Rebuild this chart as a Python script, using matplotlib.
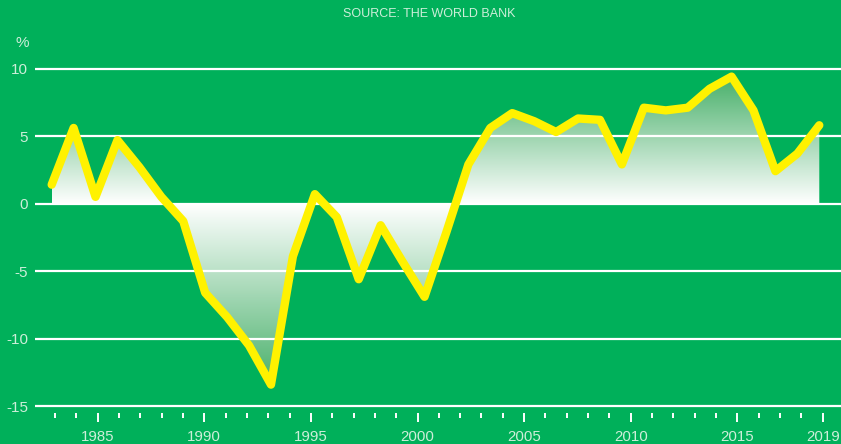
import numpy as np
import matplotlib.pyplot as plt

# GDP growth, annual %
years = list(range(1983, 2019))
growth = [1.4, 5.6, 0.5, 4.7, 2.7, 0.5, -1.3, -6.6, -8.4, -10.5,
          -13.4, -3.9, 0.7, -1.0, -5.6, -1.6, -4.3, -6.9, -2.1, 2.9,
          5.6, 6.7, 6.1, 5.3, 6.3, 6.2, 2.9, 7.1, 6.9, 7.1,
          8.5, 9.4, 6.9, 2.4, 3.7, 5.8]
y_ticks = [-15, -10, -5, 0, 5, 10]
x_major = [1985, 1990, 1995, 2000, 2005, 2010, 2015, 2019]
x_minor = list(range(1983, 2020))

bg = '#00b05a'
txt = '#cdeed9'
yellow = '#fff200'

plt.rcParams['font.family'] = ['Liberation Sans', 'DejaVu Sans']

fig = plt.figure(figsize=(8.41, 4.44), dpi=100, facecolor=bg)
ax = fig.add_axes([35 / 841, 31 / 444, 806 / 841, 358 / 444])
ax.set_facecolor(bg)

idx = np.arange(len(growth))
vals = np.array(growth)

# gradient fill, white at zero, deeper green toward the extremes
poly = ax.fill_between(idx, vals, 0, facecolor='none', edgecolor='none')
ys = np.linspace(-15.5, 11, 600)
t = np.where(ys > 0, ys / vals.max(), ys / vals.min())
t = np.clip(t, 0, 1)
c0 = np.array([1.0, 1.0, 1.0])
c1 = np.array([72, 176, 106]) / 255
cols = c0[None, :] * (1 - t[:, None]) + c1[None, :] * t[:, None]
img = np.repeat(cols[:, None, :], 2, axis=1)
im = ax.imshow(img, extent=[idx[0], idx[-1], -15.5, 11], origin='lower',
               aspect='auto', zorder=1, interpolation='bilinear')
im.set_clip_path(poly.get_paths()[0], transform=ax.transData)

ax.plot(idx, vals, color=yellow, lw=6, solid_joinstyle='round',
        solid_capstyle='round', zorder=3)

ax.set_xlim(-0.76, 35.99)
ax.set_ylim(-15.5, 11)
ax.set_yticks(y_ticks)
ax.set_yticklabels([str(v) for v in y_ticks])
ax.yaxis.grid(True, color='white', lw=1.6, zorder=2)
ax.set_axisbelow(False)
ax.tick_params(axis='y', length=0, pad=5, labelsize=11, labelcolor=txt)
ax.set_xticks([])
for s in ax.spines.values():
    s.set_visible(False)

# year axis drawn separately
ax2 = ax.twiny()
ax2.set_xlim(1982.06, 2019.86)
ax2.xaxis.set_ticks_position('bottom')
ax2.set_xticks(x_major)
ax2.set_xticklabels([str(v) for v in x_major])
ax2.set_xticks(x_minor, minor=True)
ax2.tick_params(axis='x', which='major', length=6.5, width=1.4, color='white',
                pad=5.5, labelsize=10.8, labelcolor=txt)
ax2.tick_params(axis='x', which='minor', length=3.6, width=1.4, color='white')
for s in ax2.spines.values():
    s.set_visible(False)

fig.text(16 / 841, 1 - 43 / 444, '%', color=txt, fontsize=11, va='center', ha='left')
fig.text(429 / 841, 1 - 14 / 444, 'SOURCE: THE WORLD BANK', color=txt,
         fontsize=9, ha='center', va='center')

fig.savefig('out.png', dpi=100, facecolor=bg)
